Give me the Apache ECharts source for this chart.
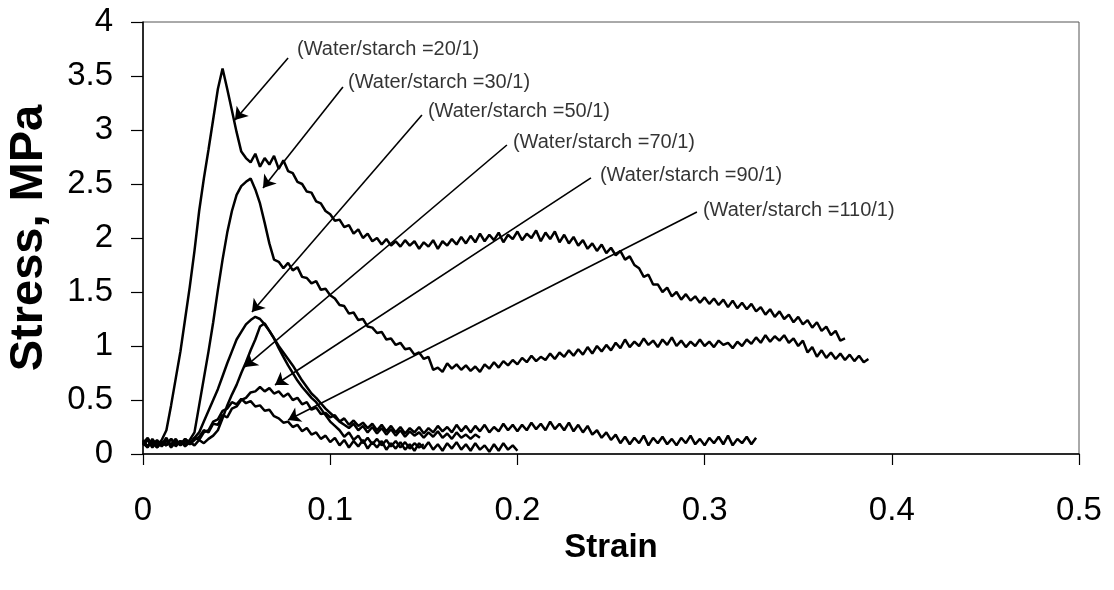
<!DOCTYPE html>
<html>
<head>
<meta charset="utf-8">
<script src="https://cdn.jsdelivr.net/npm/echarts@6/dist/echarts.min.js"></script>
<style>
html,body{margin:0;padding:0;background:#fff;}
#chart{width:1114px;height:590px;}
</style>
</head>
<body>
<div id="chart"></div>
<script>
// Shared strain sampling positions
const strain = [
0,0.0025,0.005,0.0075,0.01,0.0125,0.015,0.0175,0.02,0.0225,
0.025,0.0275,0.03,0.0325,0.035,0.0375,0.04,0.0425,0.045,0.0475,
0.05,0.0525,0.055,0.0575,0.06,0.0625,0.065,0.0675,0.07,0.0725,
0.075,0.0775,0.08,0.0825,0.085,0.0875,0.09,0.0925,0.095,0.0975,
0.1,0.1025,0.105,0.1075,0.11,0.1125,0.115,0.1175,0.12,0.1225,
0.125,0.1275,0.13,0.1325,0.135,0.1375,0.14,0.1425,0.145,0.1475,
0.15,0.1525,0.155,0.1575,0.16,0.1625,0.165,0.1675,0.17,0.1725,
0.175,0.1775,0.18,0.1825,0.185,0.1875,0.19,0.1925,0.195,0.1975,
0.2,0.2025,0.205,0.2075,0.21,0.2125,0.215,0.2175,0.22,0.2225,
0.225,0.2275,0.23,0.2325,0.235,0.2375,0.24,0.2425,0.245,0.2475,
0.25,0.2525,0.255,0.2575,0.26,0.2625,0.265,0.2675,0.27,0.2725,
0.275,0.2775,0.28,0.2825,0.285,0.2875,0.29,0.2925,0.295,0.2975,
0.3,0.3025,0.305,0.3075,0.31,0.3125,0.315,0.3175,0.32,0.3225,
0.325,0.3275,0.33,0.3325,0.335,0.3375,0.34,0.3425,0.345,0.3475,
0.35,0.3525,0.355,0.3575,0.36,0.3625,0.365,0.3675,0.37,0.3725,
0.375,0.3775,0.38,0.3825,0.385,0.3875
];

// Stress (MPa) for each water/starch ratio, aligned with strain[]
const stress20 = [
0.10,0.06,0.14,0.08,0.13,0.22,0.45,0.70,0.95,1.25,
1.55,1.88,2.25,2.55,2.82,3.10,3.38,3.57,3.38,3.18,
2.98,2.80,2.74,2.70,2.78,2.66,2.74,2.68,2.76,2.64,
2.72,2.62,2.60,2.52,2.50,2.43,2.42,2.34,2.32,2.25,
2.22,2.16,2.17,2.10,2.12,2.04,2.08,2.00,2.04,1.97,
2.00,1.94,1.99,1.93,1.97,1.92,1.98,1.93,1.97,1.90,
1.96,1.92,1.98,1.90,1.97,1.93,1.99,1.94,2.01,1.95,
2.02,1.96,2.04,1.97,2.03,1.98,2.05,1.96,2.03,1.99,
2.06,1.98,2.04,2.00,2.07,1.97,2.05,1.99,2.06,1.96,
2.03,1.95,2.01,1.93,1.98,1.90,1.95,1.88,1.94,1.86,
1.91,1.84,1.88,1.80,1.83,1.75,1.72,1.64,1.66,1.57,
1.57,1.50,1.54,1.46,1.50,1.43,1.48,1.42,1.46,1.40,
1.45,1.39,1.44,1.38,1.43,1.36,1.42,1.35,1.40,1.34,
1.39,1.32,1.36,1.29,1.34,1.27,1.32,1.25,1.29,1.22,
1.27,1.20,1.24,1.17,1.22,1.14,1.18,1.10,1.14,1.05,
1.07
];
const stress30 = [
0.12,0.07,0.13,0.06,0.11,0.08,0.14,0.07,0.12,0.09,
0.13,0.20,0.45,0.70,0.95,1.22,1.52,1.80,2.05,2.25,
2.40,2.48,2.52,2.55,2.45,2.32,2.14,1.95,1.80,1.78,
1.72,1.77,1.70,1.73,1.64,1.63,1.58,1.60,1.52,1.53,
1.47,1.44,1.38,1.37,1.30,1.31,1.24,1.25,1.18,1.17,
1.12,1.13,1.06,1.07,1.01,1.03,0.97,0.98,0.92,0.94,
0.88,0.90,0.78,0.80,0.76,0.84,0.79,0.83,0.78,0.82,
0.77,0.81,0.76,0.83,0.79,0.85,0.80,0.86,0.82,0.87,
0.83,0.89,0.85,0.91,0.86,0.90,0.87,0.93,0.88,0.94,
0.90,0.96,0.91,0.97,0.92,0.99,0.93,1.00,0.95,1.01,
0.96,1.03,0.98,1.06,0.99,1.04,1.00,1.07,1.01,1.05,
0.99,1.06,1.01,1.08,1.00,1.05,0.99,1.04,1.00,1.06,
1.00,1.04,0.99,1.05,1.01,1.03,0.98,1.04,1.00,1.06,
1.02,1.08,1.03,1.10,1.04,1.09,1.05,1.10,1.03,1.07,
1.00,1.05,0.94,0.99,0.90,0.96,0.89,0.94,0.88,0.93,
0.87,0.92,0.86,0.91,0.85,0.88
];
const stress50 = [
0.09,0.14,0.07,0.12,0.08,0.13,0.06,0.11,0.09,0.14,
0.10,0.15,0.20,0.30,0.40,0.50,0.60,0.72,0.84,0.95,
1.06,1.13,1.20,1.24,1.27,1.25,1.20,1.14,1.07,0.98,
0.90,0.82,0.75,0.68,0.62,0.57,0.52,0.48,0.42,0.36,
0.30,0.26,0.22,0.16,0.20,0.13,0.17,0.10,0.15,0.09,
0.14,0.08,0.13,0.07,0.12,0.06,0.11,0.05,0.10,0.06,
0.09
];
const stress70 = [
0.13,0.07,0.12,0.06,0.11,0.08,0.14,0.09,0.12,0.07,
0.11,0.08,0.13,0.10,0.14,0.17,0.22,0.33,0.45,0.55,
0.64,0.75,0.85,0.96,1.06,1.18,1.21,1.14,1.07,1.00,
0.94,0.88,0.82,0.75,0.68,0.62,0.56,0.52,0.47,0.42,
0.38,0.34,0.30,0.27,0.24,0.28,0.22,0.26,0.20,0.25,
0.19,0.24,0.18,0.23,0.17,0.22,0.16,0.21,0.17,0.20,
0.15,0.20,0.16,0.21,0.15,0.19,0.14,0.20,0.15,0.18,
0.14,0.18,0.15
];
const stress90 = [
0.10,0.15,0.08,0.13,0.07,0.12,0.09,0.14,0.08,0.12,
0.09,0.13,0.16,0.22,0.20,0.28,0.27,0.36,0.34,0.42,
0.44,0.50,0.52,0.57,0.58,0.62,0.58,0.61,0.56,0.58,
0.53,0.56,0.50,0.52,0.46,0.48,0.41,0.43,0.37,0.38,
0.34,0.36,0.30,0.33,0.27,0.31,0.26,0.29,0.24,0.28,
0.22,0.27,0.21,0.26,0.20,0.25,0.19,0.24,0.20,0.25,
0.19,0.24,0.20,0.26,0.21,0.25,0.20,0.27,0.21,0.26,
0.20,0.26,0.21,0.27,0.20,0.25,0.21,0.28,0.22,0.27,
0.21,0.27,0.22,0.29,0.23,0.28,0.22,0.30,0.23,0.28,
0.22,0.29,0.21,0.27,0.20,0.26,0.18,0.22,0.15,0.20,
0.13,0.18,0.10,0.16,0.09,0.15,0.10,0.17,0.08,0.15,
0.10,0.16,0.09,0.14,0.08,0.15,0.10,0.17,0.09,0.14,
0.08,0.15,0.10,0.16,0.09,0.17,0.08,0.14,0.10,0.16,
0.09,0.15
];
const stress110 = [
0.08,0.13,0.06,0.11,0.09,0.15,0.07,0.12,0.08,0.14,
0.10,0.15,0.13,0.20,0.22,0.30,0.32,0.40,0.42,0.48,
0.46,0.51,0.47,0.49,0.44,0.45,0.40,0.41,0.35,0.33,
0.29,0.30,0.25,0.27,0.21,0.24,0.18,0.20,0.14,0.17,
0.11,0.15,0.08,0.13,0.06,0.12,0.07,0.13,0.05,0.11,
0.06,0.12,0.04,0.10,0.05,0.11,0.04,0.09,0.03,0.10,
0.05,0.11,0.04,0.09,0.03,0.10,0.05,0.11,0.04,0.09,
0.03,0.10,0.04,0.08,0.02,0.09,0.03,0.10,0.04,0.08,
0.03
];

const seriesNames = ['20/1','30/1','50/1','70/1','90/1','110/1'];
const seriesStress = [stress20, stress30, stress50, stress70, stress90, stress110];

// Tick labels
const xTicks = ['0','0.1','0.2','0.3','0.4','0.5'];
const yTicks = ['0','0.5','1','1.5','2','2.5','3','3.5','4'];

// Annotation texts and their anchor / arrow points in data units (strain, stress)
const annoText = ['(Water/starch =20/1)','(Water/starch =30/1)','(Water/starch =50/1)','(Water/starch =70/1)','(Water/starch =90/1)','(Water/starch =110/1)'];
const annoTextAt = [[0.0823,3.75],[0.1095,3.444],[0.1522,3.167],[0.1976,2.88],[0.2441,2.583],[0.2991,2.259]];
const arrowFrom = [[0.0775,3.667],[0.1068,3.398],[0.149,3.139],[0.1944,2.861],[0.2393,2.556],[0.2959,2.241]];
const arrowTo = [[0.0491,3.093],[0.0641,2.463],[0.0582,1.315],[0.0545,0.806],[0.0705,0.639],[0.0775,0.315]];

const FONT = '"Liberation Sans", Arial, sans-serif';

const curveSeries = seriesStress.map((arr, k) => ({
  name: seriesNames[k],
  type: 'line',
  data: arr.map((v, i) => [strain[i], v]),
  symbol: 'none',
  showSymbol: false,
  lineStyle: { color: '#000', width: 2.5 },
  z: 3
}));

const arrowSeries = {
  type: 'line',
  data: [],
  silent: true,
  markLine: {
    silent: true,
    animation: false,
    symbol: ['none', 'arrow'],
    symbolSize: 12,
    label: { show: false },
    itemStyle: { color: '#000' },
    lineStyle: { color: '#000', width: 1.6, type: 'solid' },
    emphasis: { disabled: true },
    data: arrowFrom.map((p, i) => [
      { coord: p, symbol: 'none' },
      { coord: arrowTo[i], symbol: 'arrow', symbolSize: 12, itemStyle: { color: '#000' } }
    ])
  },
  z: 4
};

const labelSeries = {
  type: 'scatter',
  symbolSize: 0,
  silent: true,
  data: annoTextAt.map((p, i) => ({ value: p, name: annoText[i] })),
  label: {
    show: true,
    position: 'right',
    distance: 0,
    formatter: p => p.name,
    color: '#000',
    fontSize: 20,
    fontFamily: FONT
  },
  z: 5
};

const chart = echarts.init(document.getElementById('chart'), null, { renderer: 'canvas' });
chart.setOption({
  animation: false,
  backgroundColor: '#fff',
  grid: {
    left: 143, right: 35, top: 22, bottom: 136,
    containLabel: false, outerBoundsMode: 'none',
    show: true, borderColor: '#555', borderWidth: 1, backgroundColor: 'transparent'
  },
  xAxis: {
    type: 'value', min: 0, max: 0.5, interval: 0.1,
    name: 'Strain', nameLocation: 'middle', nameGap: 74,
    nameTextStyle: { fontFamily: FONT, fontWeight: 'bold', fontSize: 33, color: '#000' },
    axisLine: { show: true, onZero: false, lineStyle: { color: '#000', width: 1.5 } },
    axisTick: { show: true, length: 11, inside: false, lineStyle: { color: '#000', width: 1.2 } },
    axisLabel: { fontFamily: FONT, fontSize: 33, color: '#000', margin: 40,
      formatter: (v) => xTicks[Math.round(v * 10)] },
    splitLine: { show: false }
  },
  yAxis: {
    type: 'value', min: 0, max: 4, interval: 0.5,
    name: 'Stress, MPa', nameLocation: 'middle', nameGap: 90, nameRotate: 90,
    nameTextStyle: { fontFamily: FONT, fontWeight: 'bold', fontSize: 47, color: '#000' },
    axisLine: { show: true, onZero: false, lineStyle: { color: '#000', width: 1.5 } },
    axisTick: { show: true, length: 12, inside: false, lineStyle: { color: '#000', width: 1.2 } },
    axisLabel: { fontFamily: FONT, fontSize: 33, color: '#000', margin: 30,
      formatter: (v) => yTicks[Math.round(v * 2)] },
    splitLine: { show: false }
  },
  tooltip: { show: false },
  series: [...curveSeries, arrowSeries, labelSeries]
});
</script>
</body>
</html>
